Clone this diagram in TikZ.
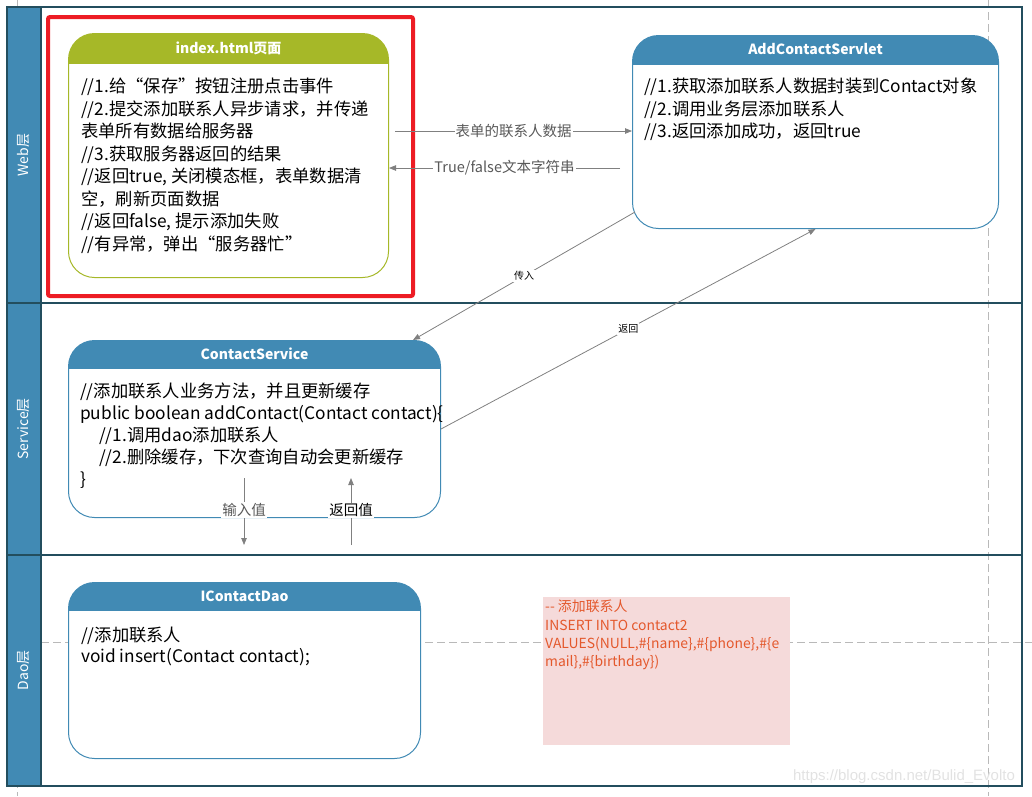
\documentclass[tikz,border=0pt]{standalone}
\usepackage{fontspec}
\setmainfont{Noto Sans CJK SC}
\newfontfamily\markfont{Liberation Sans}
\usepackage{tikz}
\usetikzlibrary{positioning, arrows.meta}
\definecolor{laneblue}{RGB}{65, 138, 180}
\definecolor{laneline}{RGB}{35, 78, 94}
\definecolor{olivehead}{RGB}{166, 184, 40}
\definecolor{hilite}{RGB}{237, 28, 36}
\definecolor{flowgray}{RGB}{128, 128, 128}
\definecolor{lblgray}{RGB}{89, 89, 89}
\definecolor{guidegray}{RGB}{185, 185, 185}
\definecolor{sqlpink}{RGB}{245, 218, 218}
\definecolor{sqltext}{RGB}{228, 88, 44}
\definecolor{markgray}{RGB}{226, 226, 226}
\tikzset{
    lane/.style={draw=laneline, line width=1.2pt},
    lanelbl/.style={rotate=90, text=white, font=\fontsize{14}{16}\selectfont},
    card/.style 2 args={draw=#1, line width=1pt, fill=white, rounded corners=26pt,
        anchor=north west, inner sep=0pt,
        path picture={\fill[#1, sharp corners] (path picture bounding box.north west)
            rectangle ([yshift=-#2]path picture bounding box.north east);}},
    cardtitle/.style={text=white, font=\fontsize{14}{16}\selectfont\bfseries},
    cardbody/.style={anchor=north west, align=left, inner sep=0pt,
        font=\fontsize{17.3}{22.5}\selectfont},
    flow/.style={draw=flowgray, line width=0.8pt, -{Triangle[length=7pt, width=5.5pt]}},
    flowlbl/.style={fill=white, inner sep=1pt, text=lblgray, font=\fontsize{14.5}{16}\selectfont},
    smalllbl/.style={fill=white, inner sep=1pt, font=\fontsize{10}{12}\selectfont},
    guide/.style={draw=guidegray, dash pattern=on 8pt off 4pt, line width=0.8pt},
    sqlbox/.style={fill=sqlpink, anchor=north west, inner sep=0pt},
    sqlbody/.style={anchor=north west, align=left, inner sep=0pt, text=sqltext,
        font=\fontsize{13.9}{18.3}\selectfont}
}
\begin{document}
\begin{tikzpicture}[x=1pt, y=-1pt]
    \useasboundingbox (0,0) rectangle (1032,796);
    % guides
    \draw[guide] (988,0) -- (988,796);
    \draw[guide] (17,0) -- (17,796);
    \draw[guide] (41,642) -- (1032,642);

    % lanes
    \fill[laneblue] (7,7) rectangle (41,786);
    \draw[lane] (7,7) rectangle (1022,786);
    \draw[lane] (41,7) -- (41,786);
    \draw[lane] (7,303) -- (1022,303);
    \draw[lane] (7,555) -- (1022,555);
    \node[lanelbl] (webl) at (24,155) {Web层};
    \node[lanelbl] (svcl) at (24,429) {Service层};
    \node[lanelbl] (daol) at (24,670) {Dao层};

    % Web
    \draw[hilite, line width=4pt, rounded corners=2pt] (48,17) rectangle (413,296);
    \node[card={olivehead}{30pt}, minimum width=320pt, minimum height=244pt] (idx) at (68,33) {};
    \node[cardtitle] at ([yshift=-15pt]idx.north) {index.html页面};
    \node[cardbody] (idxtxt) at (81,78) {//1.给“保存”按钮注册点击事件\\
        //2.提交添加联系人异步请求，并传递\\
        表单所有数据给服务器\\
        //3.获取服务器返回的结果\\
        //返回true, 关闭模态框，表单数据清\\
        空，刷新页面数据\\
        //返回false, 提示添加失败\\
        //有异常，弹出“服务器忙”};

    \node[card={laneblue}{29pt}, minimum width=366pt, minimum height=193pt] (srv) at (632,35) {};
    \node[cardtitle] at ([yshift=-14.5pt]srv.north) {AddContactServlet};
    \node[cardbody] (srvtxt) at (644,78) {//1.获取添加联系人数据封装到Contact对象\\
        //2.调用业务层添加联系人\\
        //3.返回添加成功，返回true};

    % Service
    \node[card={laneblue}{28pt}, minimum width=372pt, minimum height=177pt] (svc) at (68,340) {};
    \node[cardtitle] at ([yshift=-14pt]svc.north) {ContactService};
    \node[cardbody, font=\fontsize{17.3}{22}\selectfont] (svctxt) at (80,383) {//添加联系人业务方法，并且更新缓存\\
        public boolean addContact(Contact contact)\{\\
        \hspace*{19pt}//1.调用dao添加联系人\\
        \hspace*{19pt}//2.删除缓存，下次查询自动会更新缓存\\
        \}};

    % Dao
    \node[card={laneblue}{28pt}, minimum width=352pt, minimum height=176pt] (dao) at (68,582) {};
    \node[cardtitle] at ([yshift=-14pt]dao.north) {IContactDao};
    \node[cardbody, font=\fontsize{17.3}{21}\selectfont] (daotxt) at (81,627) {//添加联系人\\
        void insert(Contact contact);};

    \node[sqlbox, minimum width=247pt, minimum height=148pt] (sql) at (543,597) {};
    \node[sqlbody] (sqltxt) at ([xshift=2pt, yshift=-3pt]sql.north west) {-{}- 添加联系人\\
        INSERT INTO contact2\\
        VALUES(NULL,\#\{name\},\#\{phone\},\#\{e\\
        mail\},\#\{birthday\})};

    % connectors
    \coordinate (sendA) at (395,131);
    \draw[flow] (sendA) -- (srv.west |- sendA) node[flowlbl, pos=0.5] {表单的联系人数据};
    \coordinate (backA) at (620,168);
    \draw[flow] (backA) -- (idx.east |- backA) node[flowlbl, pos=0.5] {True/false文本字符串};
    \coordinate (passA) at (635,212);
    \draw[flow] (passA) -- ([xshift=-28pt]svc.north east) node[smalllbl, pos=0.5] {传入};
    \draw[flow] (svc.east) -- (srv.south) node[smalllbl, pos=0.5] {返回};
    \coordinate (inA) at (244,478);
    \coordinate (inB) at (244,545);
    \draw[flow] (inA) -- (inB) node[flowlbl, pos=0.48] {输入值};
    \coordinate (outA) at (351,545);
    \coordinate (outB) at (351,478);
    \draw[flow] (outA) -- (outB) node[flowlbl, text=black, pos=0.52] {返回值};

    \node[text=markgray, font=\markfont\fontsize{15}{16}\selectfont] (mark) at (904,777) {https://blog.csdn.net/Bulid\_Evolto};
\end{tikzpicture}
\end{document}
